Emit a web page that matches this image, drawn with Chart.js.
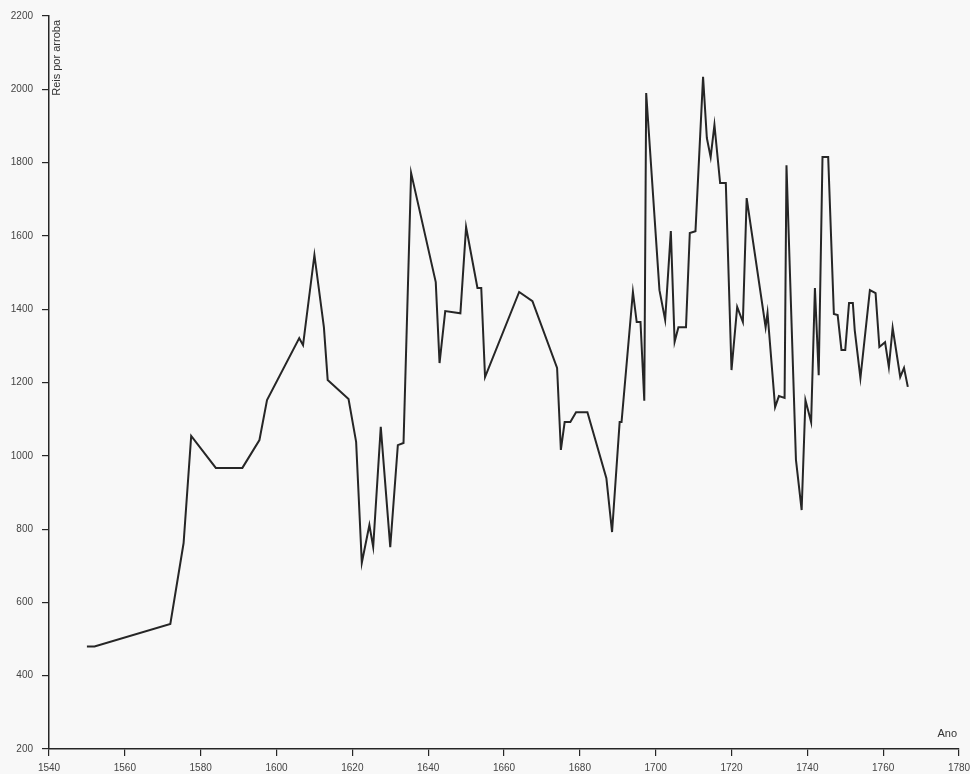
<!DOCTYPE html>
<html>
<head>
<meta charset="utf-8">
<script src="https://cdn.jsdelivr.net/npm/chart.js@4/dist/chart.umd.min.js"></script>
<style>
  html, body { margin: 0; padding: 0; background: #f8f8f8; }
  #wrap { position: relative; width: 970px; height: 774px; }
</style>
</head>
<body>
<div id="wrap"><canvas id="c" width="970" height="774"></canvas></div>
<script>
const years = [1550, 1552, 1572, 1575.5, 1577.5, 1584, 1591, 1595.5, 1597.5, 1606, 1607, 1610, 1612.5, 1613.5, 1619, 1621, 1622.5, 1624.5, 1625.5, 1627.5, 1630, 1632, 1633.5, 1635.5, 1642, 1643, 1644.5, 1648.5, 1650, 1653, 1654, 1655, 1664, 1667.5, 1674, 1675, 1676, 1677.5, 1679, 1682, 1687, 1688.5, 1690.5, 1691, 1694, 1695, 1696, 1697, 1697.5, 1701, 1702.5, 1704, 1705, 1706, 1708, 1709, 1710.5, 1712.5, 1713.5, 1714.5, 1715.5, 1717, 1718.5, 1720, 1721.5, 1723, 1724, 1729, 1729.5, 1731.5, 1732.5, 1734, 1734.5, 1737, 1738.5, 1739.5, 1741, 1742, 1743, 1744, 1745.5, 1747, 1748, 1749, 1750, 1751, 1752, 1752.5, 1754, 1756.5, 1758, 1759, 1760.5, 1761.5, 1762.5, 1764.5, 1765.5, 1766.5];
const prices = [480, 480, 541, 762, 1054, 967, 967, 1043, 1152, 1321, 1302, 1548, 1351, 1207, 1155, 1038, 708, 811, 751, 1079, 751, 1029, 1035, 1772, 1474, 1253, 1395, 1389, 1624, 1458, 1458, 1215, 1447, 1422, 1240, 1016, 1092, 1092, 1119, 1119, 939, 792, 1092, 1092, 1447, 1365, 1365, 1150, 1990, 1452, 1371, 1613, 1311, 1351, 1351, 1608, 1613, 2034, 1867, 1815, 1903, 1744, 1744, 1234, 1406, 1365, 1703, 1351, 1390, 1133, 1163, 1158, 1793, 989, 852, 1152, 1092, 1458, 1220, 1815, 1815, 1387, 1384, 1289, 1289, 1417, 1417, 1343, 1212, 1452, 1444, 1297, 1310, 1242, 1349, 1215, 1240, 1188];
const xTicks = [1540, 1560, 1580, 1600, 1620, 1640, 1660, 1680, 1700, 1720, 1740, 1760, 1780];
const yTicks = [200, 400, 600, 800, 1000, 1200, 1400, 1600, 1800, 2000, 2200];
const yTitle = 'Reis por arroba';
const xTitle = 'Ano';

const points = years.map((y, i) => ({ x: y, y: prices[i] }));
const FONT = "'Liberation Sans', Arial, sans-serif";
const INK = '#262626';

const titlePlugin = {
  id: 'titles',
  afterDraw(chart) {
    const ctx = chart.ctx;
    const ca = chart.chartArea;
    ctx.save();
    ctx.fillStyle = '#333';
    ctx.font = '11px ' + FONT;
    ctx.translate(ca.left + 8, ca.top + 4);
    ctx.rotate(-Math.PI / 2);
    ctx.textAlign = 'right';
    ctx.textBaseline = 'middle';
    ctx.fillText(yTitle, 0, 0);
    ctx.restore();
    ctx.save();
    ctx.fillStyle = '#333';
    ctx.font = '11px ' + FONT;
    ctx.textAlign = 'right';
    ctx.textBaseline = 'bottom';
    ctx.fillText(xTitle, ca.right - 2, ca.bottom - 10);
    ctx.restore();
  }
};

new Chart(document.getElementById('c'), {
  type: 'line',
  data: {
    datasets: [{
      data: points,
      borderColor: INK,
      borderWidth: 2,
      pointRadius: 0,
      tension: 0,
      fill: false
    }]
  },
  options: {
    responsive: false,
    animation: false,
    layout: { padding: { top: 16, right: 11, left: 0, bottom: 0 } },
    plugins: { legend: { display: false }, tooltip: { enabled: false } },
    scales: {
      x: {
        type: 'linear',
        min: 1540, max: 1780,
        afterBuildTicks: s => { s.ticks = xTicks.map(v => ({ value: v })); },
        afterFit: s => { s.height = 25; s.paddingLeft = 0; s.paddingRight = 0; },
        border: { display: true, color: INK, width: 1.5 },
        grid: { display: true, drawOnChartArea: false, drawTicks: true, tickLength: 7, color: INK, lineWidth: 1.2 },
        ticks: { color: '#444', font: { family: FONT, size: 10 }, padding: 6, maxRotation: 0, autoSkip: false, callback: v => String(v) }
      },
      y: {
        type: 'linear',
        min: 200, max: 2200,
        afterBuildTicks: s => { s.ticks = yTicks.map(v => ({ value: v })); },
        afterFit: s => { s.width = 49; s.paddingTop = 0; s.paddingBottom = 0; },
        border: { display: true, color: INK, width: 1.5 },
        grid: { display: true, drawOnChartArea: false, drawTicks: true, tickLength: 7, color: INK, lineWidth: 1.2 },
        ticks: { color: '#444', font: { family: FONT, size: 10 }, padding: 9, autoSkip: false, callback: v => String(v) }
      }
    }
  },
  plugins: [titlePlugin]
});
</script>
</body>
</html>
